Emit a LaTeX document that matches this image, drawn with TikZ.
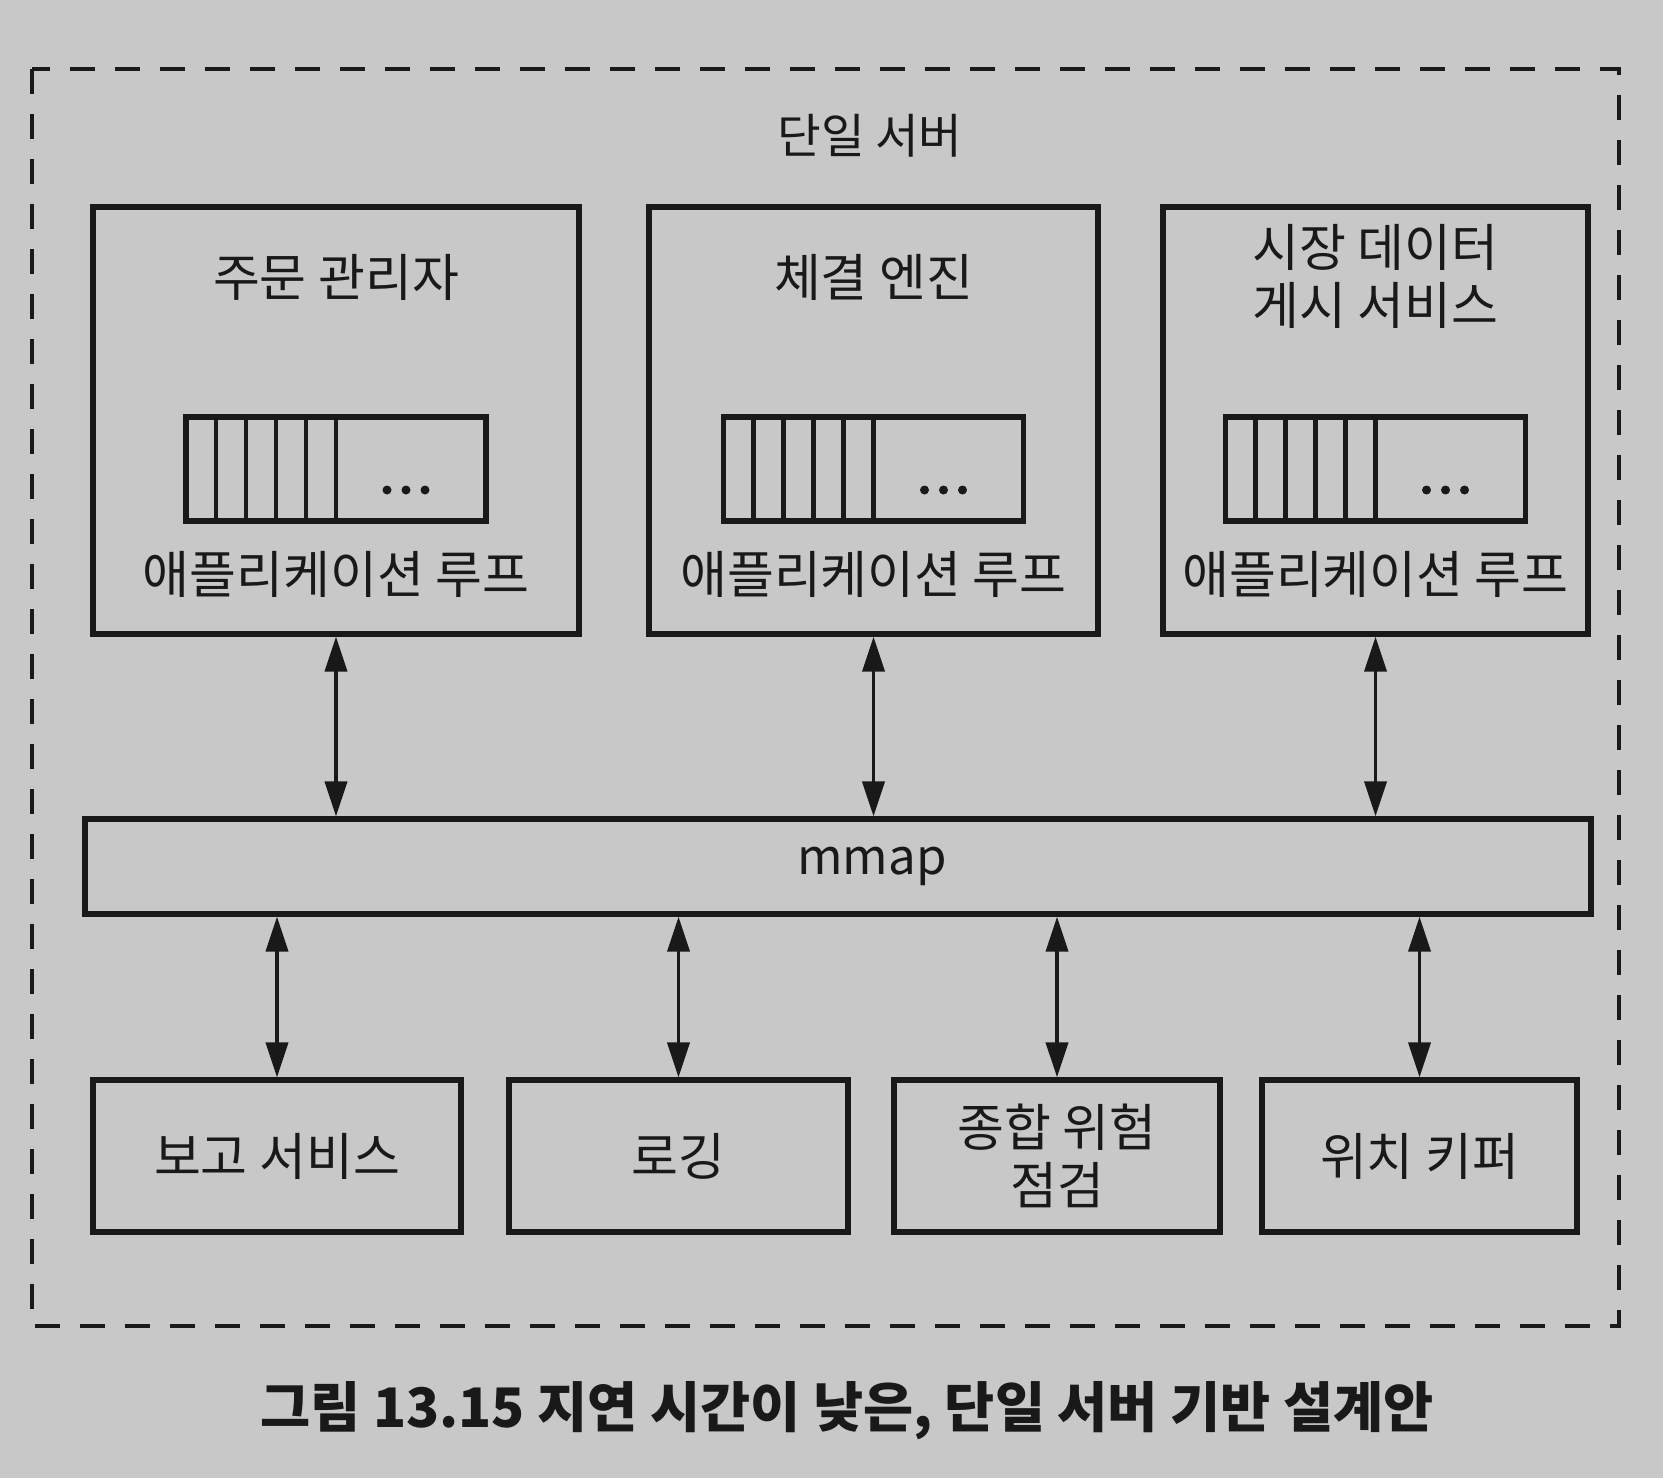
\documentclass[tikz,border=0pt]{standalone}
\usepackage{fontspec}
\setmainfont{Noto Sans CJK KR}
\usetikzlibrary{arrows.meta}
\definecolor{paper}{RGB}{200,200,200}
\definecolor{ink}{RGB}{25,25,25}

\begin{document}
\begin{tikzpicture}[y=-1cm]
  \tikzset{> = {Triangle[length=3.5mm,width=2.2mm]}}
  \tikzset{svcbox/.style = {draw=ink, line width=1.5pt, inner sep=0pt, align=center,
                            font=\fontsize{14.5}{16.5}\selectfont, text=ink}}
  \tikzset{lbl/.style = {font=\fontsize{14.5}{16.5}\selectfont, text=ink, align=center}}
  \tikzset{link/.style = {<->, draw=ink, line width=1.1pt}}
  \fill[paper] (0,0) rectangle (16.63,14.78);
  \draw[ink, line width=1.4pt, dash pattern=on 2.5mm off 2mm] (0.32,0.69) rectangle (16.19,13.26);
  \node[lbl, font=\fontsize{13.5}{16}\selectfont] (srv) at (8.70,1.36) {단일 서버};
  % application processes
  \node[svcbox, minimum width=4.86cm, minimum height=4.27cm] (om) at (3.36,4.205) {};
  \node[svcbox, minimum width=4.49cm, minimum height=4.27cm] (me) at (8.735,4.205) {};
  \node[svcbox, minimum width=4.25cm, minimum height=4.27cm] (md) at (13.755,4.205) {};
  \node[lbl] (omT) at (3.36,2.77) {주문 관리자};
  \node[lbl] (meT) at (8.735,2.77) {체결 엔진};
  \node[lbl] (mdT) at (13.755,2.76) {시장 데이터\\게시 서비스};
  \foreach \cx in {3.36,8.735,13.755}{
    \draw[ink, line width=1.5pt] (\cx-1.5,4.17) rectangle (\cx+1.5,5.21);
    \foreach \i in {1,...,5}
      \draw[ink, line width=1.3pt] (\cx-1.5+0.3*\i,4.17) -- (\cx-1.5+0.3*\i,5.21);
    \foreach \d in {-0.19,0,0.19}
      \fill[ink] (\cx+0.7+\d,4.9) circle (0.045);
    \node[lbl] at (\cx,5.74) {애플리케이션 루프};
  }
  % shared memory
  \node[svcbox, minimum width=15.06cm, minimum height=0.95cm] (mm) at (8.38,8.665) {};
  \node[lbl, font=\fontsize{14}{16}\selectfont] (mmT) at (8.72,8.665) {mmap};
  % consumers
  \node[svcbox, minimum width=3.68cm, minimum height=1.52cm] (rpt) at (2.77,11.56) {보고 서비스};
  \node[svcbox, minimum width=3.39cm, minimum height=1.52cm] (log) at (6.785,11.56) {로깅};
  \node[svcbox, minimum width=3.26cm, minimum height=1.52cm] (risk) at (10.57,11.56) {종합 위험\\점검};
  \node[svcbox, minimum width=3.15cm, minimum height=1.52cm] (pos) at (14.195,11.56) {위치 키퍼};
  \foreach \n in {om,me,md}
    \draw[link] (\n.south) -- (\n.south |- mm.north);
  \foreach \n in {rpt,log,risk,pos}
    \draw[link] (mm.south -| \n.north) -- (\n.north);
  \node[font=\bfseries\fontsize{15.5}{18}\selectfont, text=ink] (cap) at (8.47,14.11)
    {그림 13.15 지연 시간이 낮은, 단일 서버 기반 설계안};
\end{tikzpicture}
\end{document}
